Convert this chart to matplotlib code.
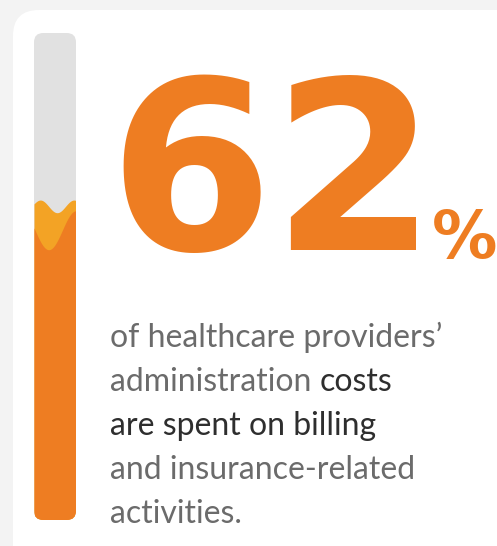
import matplotlib.pyplot as plt
import numpy as np
from matplotlib.patches import FancyBboxPatch

# data
share_pct = 62
track_max = 100
big_label = "62"
unit_label = "%"
caption_lines = [
    [("of healthcare providers\u2019", "#6b6b6b")],
    [("administration ", "#6b6b6b"), ("costs", "#2e2e2e")],
    [("are spent on billing", "#2e2e2e")],
    [("and insurance-related", "#6b6b6b")],
    [("activities.", "#6b6b6b")],
]

ORANGE = "#ee7d22"
YELLOW = "#f3a325"
TRACK = "#e1e1e1"

W, H = 497, 546
fig = plt.figure(figsize=(W / 100, H / 100), dpi=100)
fig.patch.set_facecolor("#f3f3f3")

# pixel canvas for card and text
ax = fig.add_axes([0, 0, 1, 1])
ax.set_xlim(0, W)
ax.set_ylim(H, 0)
ax.axis("off")

card = FancyBboxPatch((13, 10), 600, 600, boxstyle="round,pad=0,rounding_size=26",
                      facecolor="white", edgecolor="none")
ax.add_patch(card)

# progress bar
bx = fig.add_axes([34 / W, 1 - 520 / H, 42 / W, 487 / H])
bx.set_xlim(0, 1)
bx.set_ylim(0, track_max)
bx.axis("off")
bx.patch.set_alpha(0)

track = FancyBboxPatch((0, 0), 1, track_max, boxstyle="round,pad=0,rounding_size=0.22",
                       mutation_aspect=track_max / 487 * 42, facecolor="none",
                       edgecolor="none", transform=bx.transData)
bx.add_patch(track)

bg = bx.bar([0.5], [track_max], width=1, color=TRACK)
xs = np.linspace(0, 1, 100)
yellow_top = share_pct + 2.4 + 1.3 * np.cos(2 * np.pi * (xs - 0.15) / 0.8)
orange_top = share_pct - 2.5 + 4.0 * np.cos(2 * np.pi * (xs - 1) / 1.3)
fy = bx.fill_between(xs, 0, yellow_top, color=YELLOW, lw=0)
fo = bx.fill_between(xs, 0, orange_top, color=ORANGE, lw=0)
for art in [bg[0], fy, fo]:
    art.set_clip_path(track)

# big number
ax.text(108, 250, big_label, fontsize=170, color=ORANGE, fontweight="bold",
        family="DejaVu Sans", va="baseline", ha="left")
ax.text(432, 258, unit_label, fontsize=47, color=ORANGE, fontweight="bold",
        family="DejaVu Sans", va="baseline", ha="left")

# caption
y0, dy = 347, 44
for i, parts in enumerate(caption_lines):
    prev = None
    for txt, col in parts:
        if prev is None:
            prev = ax.text(110, y0 + i * dy, txt, fontsize=23, color=col,
                           family="Lato", va="baseline")
        else:
            prev = ax.annotate(txt, xy=(1, 0), xycoords=prev, fontsize=23,
                               color=col, family="Lato",
                               va="bottom", ha="left")

fig.savefig("out.png", dpi=100, facecolor=fig.get_facecolor())
